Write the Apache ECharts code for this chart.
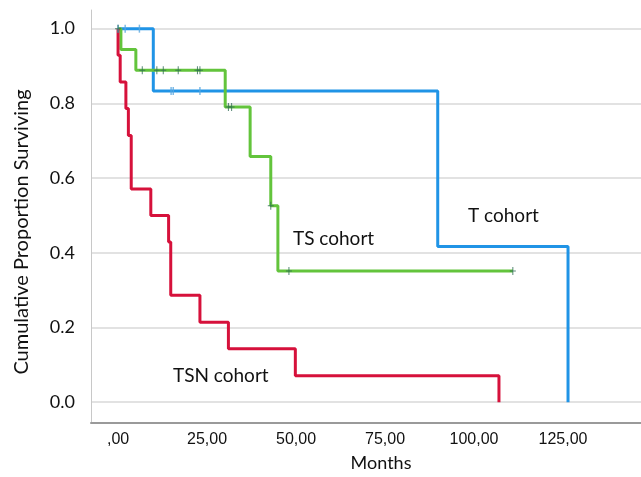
<!DOCTYPE html>
<html>
<head>
<meta charset="utf-8">
<script src="https://cdn.jsdelivr.net/npm/echarts@6/dist/echarts.min.js"></script>
<style>
html,body{margin:0;padding:0;background:#fff;}
#chart{width:641px;height:477px;}
</style>
</head>
<body>
<div id="chart"></div>
<script>
// ---- Data (months, survival proportion) ----
const xTickValues = [0, 25, 50, 75, 100, 125];
const yTickValues = [0, 0.2, 0.4, 0.6, 0.8, 1.0];

// T cohort
const tEventTimes = [0, 9.9, 89.8, 126.4];
const tSurvival   = [1.0, 0.833, 0.417, 0.0];
const tEndTime    = 126.4;
const tCensorTimes = [0, 2.0, 6.0, 14.9, 15.5, 23.0];
const tCensorSurv  = [1.0, 1.0, 1.0, 0.833, 0.833, 0.833];

// TS cohort
const tsEventTimes = [0, 0.8, 5.0, 30.1, 37.1, 42.9, 44.9];
const tsSurvival   = [1.0, 0.944, 0.889, 0.790, 0.658, 0.526, 0.351];
const tsEndTime    = 110.9;
const tsCensorTimes = [0, 6.8, 10.9, 12.7, 16.9, 22.3, 23.0, 31.0, 31.9, 42.9, 48.0, 110.9];
const tsCensorSurv  = [1.0, 0.889, 0.889, 0.889, 0.889, 0.889, 0.889, 0.790, 0.790, 0.526, 0.351, 0.351];

// TSN cohort
const tsnEventTimes = [0, 0, 0.6, 2.2, 2.9, 3.7, 9.2, 14.2, 14.8, 23.0, 31.0, 49.8, 107.0];
const tsnSurvival   = [1.0, 0.929, 0.857, 0.786, 0.714, 0.571, 0.5, 0.429, 0.286, 0.214, 0.143, 0.071, 0.0];
const tsnEndTime    = 107.0;

const cohortLabels = ['T cohort', 'TS cohort', 'TSN cohort'];

// ---- helpers ----
function stepPoints(times, surv, endTime) {
  const pts = [[times[0], surv[0]]];
  for (let i = 1; i < times.length; i++) {
    pts.push([times[i], surv[i - 1]]);
    pts.push([times[i], surv[i]]);
  }
  const last = pts[pts.length - 1];
  if (endTime > last[0]) pts.push([endTime, last[1]]);
  return pts;
}
function zip(a, b) { return a.map((v, i) => [v, b[i]]); }

const blue = '#2094e6', green = '#63c43c', red = '#d6113b';
const plusPath = 'path://M-0.5,-4H0.5V-0.5H3V0.5H0.5V4H-0.5V0.5H-3V-0.5H-0.5Z';

const chart = echarts.init(document.getElementById('chart'), null, {renderer: 'canvas'});
const option = {
  animation: false,
  backgroundColor: '#ffffff',
  grid: {left: 91, right: 0, top: 10, bottom: 50, containLabel: false},
  xAxis: {
    type: 'value',
    min: -7.6, max: 146.9,
    axisLine: {show: true, onZero: false, lineStyle: {color: '#9a9a9a', width: 2}},
    axisTick: {show: false, customValues: xTickValues},
    splitLine: {show: false},
    axisLabel: {
      customValues: xTickValues,
      margin: 9,
      color: '#111',
      fontFamily: 'Liberation Sans, Arial, sans-serif',
      fontSize: 16,
      formatter: v => (v === 0 ? '' : String(v)) + ',00'
    },
    name: 'Months',
    nameLocation: 'middle',
    nameGap: 31,
    nameTextStyle: {fontFamily: 'Lato', fontSize: 18, color: '#111', padding: [0, 0, 0, 30]}
  },
  yAxis: {
    type: 'value',
    min: -0.0557, max: 1.05,
    axisLine: {show: true, onZero: false, lineStyle: {color: '#c8c8c8', width: 1}},
    axisTick: {show: false, customValues: yTickValues},
    splitLine: {show: true, lineStyle: {color: '#d9d9d9', width: 1.5}},
    axisLabel: {
      customValues: yTickValues,
      margin: 16,
      color: '#111',
      fontFamily: 'Lato',
      fontSize: 18,
      formatter: v => v.toFixed(1)
    }
  },
  graphic: [
    {type: 'text', x: 22, y: 232, rotation: Math.PI / 2,
     style: {text: 'Cumulative Proportion Surviving', fontFamily: 'Lato', fontSize: 20, fill: '#111', align: 'center', verticalAlign: 'middle'}},
    {type: 'text', x: 468, y: 216,
     style: {text: cohortLabels[0], fontFamily: 'Lato', fontSize: 19, fill: '#111', align: 'left', verticalAlign: 'middle'}},
    {type: 'text', x: 293, y: 239,
     style: {text: cohortLabels[1], fontFamily: 'Lato', fontSize: 19, fill: '#111', align: 'left', verticalAlign: 'middle'}},
    {type: 'text', x: 173, y: 376,
     style: {text: cohortLabels[2], fontFamily: 'Lato', fontSize: 19, fill: '#111', align: 'left', verticalAlign: 'middle'}}
  ],
  series: [
    {type: 'line', name: cohortLabels[0], data: stepPoints(tEventTimes, tSurvival, tEndTime),
     showSymbol: false, lineStyle: {color: blue, width: 3}, z: 3},
    {type: 'line', name: cohortLabels[1], data: stepPoints(tsEventTimes, tsSurvival, tsEndTime),
     showSymbol: false, lineStyle: {color: green, width: 3}, z: 4},
    {type: 'line', name: cohortLabels[2], data: stepPoints(tsnEventTimes, tsnSurvival, tsnEndTime),
     showSymbol: false, lineStyle: {color: red, width: 3}, z: 5},
    {type: 'scatter', data: zip(tCensorTimes, tCensorSurv), symbol: 'rect', symbolSize: [1.5, 8],
     itemStyle: {color: '#5aa7e0'}, z: 6},
    {type: 'scatter', data: zip(tsCensorTimes, tsCensorSurv), symbol: plusPath, symbolSize: [6, 8],
     itemStyle: {color: '#2d6a52'}, z: 7}
  ]
};
chart.setOption(option);
</script>
</body>
</html>
